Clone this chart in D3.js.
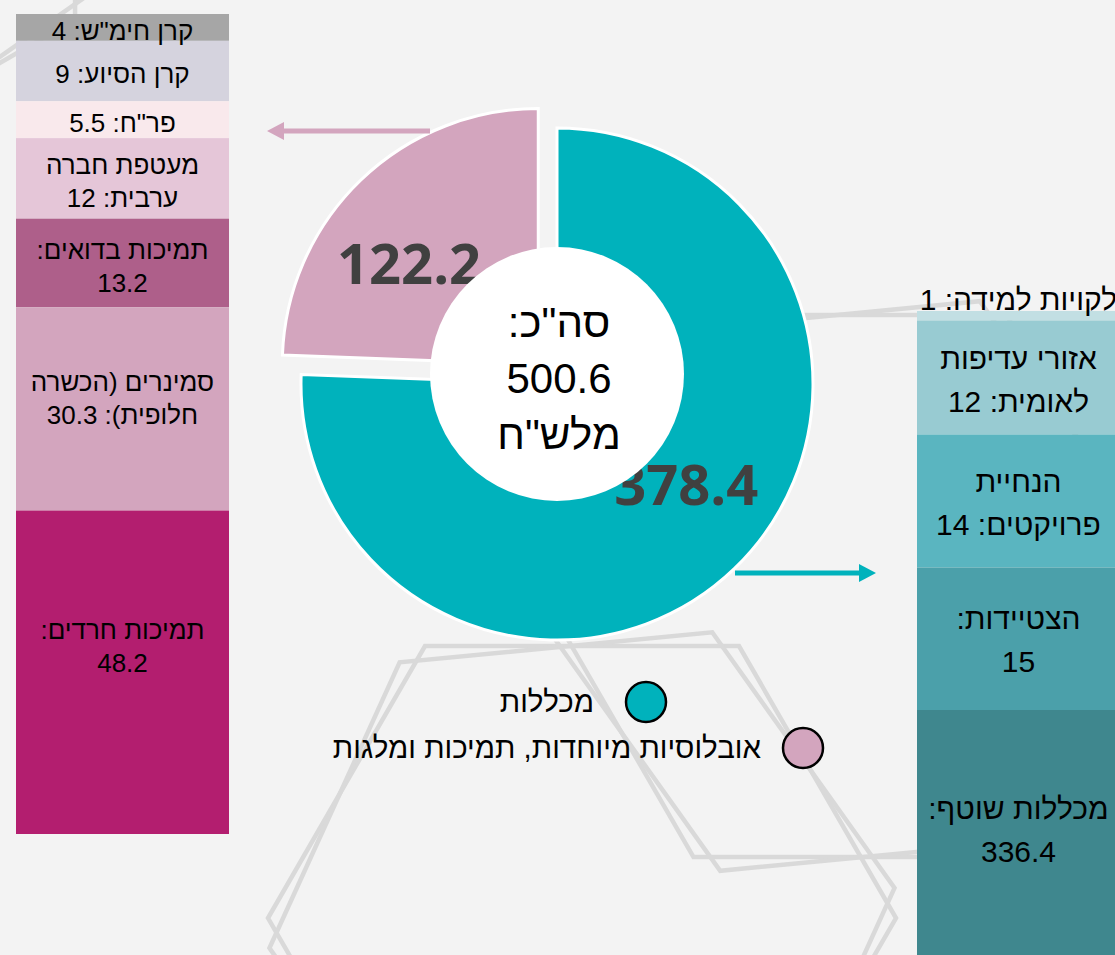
<!DOCTYPE html>
<html lang="he">
<head>
<meta charset="utf-8">
<script src="https://cdn.jsdelivr.net/npm/d3@7.9.0/dist/d3.min.js"></script>
<style>
  html, body { margin: 0; padding: 0; background: #f3f3f3; }
  svg { display: block; font-family: "Liberation Sans", "DejaVu Sans", sans-serif; }
  .num { font-family: "Open Sans", "Liberation Sans", sans-serif; }
</style>
</head>
<body>
<svg id="chart" width="1115" height="955"></svg>
<script>
// donut: two main groups (million NIS)
const groupNames = ["מכללות", "אובלוסיות מיוחדות, תמיכות ומלגות"];
const groupValues = [378.4, 122.2];
const groupColors = ["#00b2bc", "#d3a5be"];

// left bar: breakdown of the pink slice, top to bottom
const leftNames = ["קרן חימ\"ש", "קרן הסיוע", "פר\"ח", "מעטפת חברה\nערבית", "תמיכות בדואים", "סמינרים (הכשרה\nחלופית)", "תמיכות חרדים"];
const leftValues = [4, 9, 5.5, 12, 13.2, 30.3, 48.2];
const leftColors = ["#a6a6a6", "#d5d3de", "#f9e9ec", "#e5c6d8", "#ae5f8a", "#d3a5be", "#b31e6f"];

// right bar: breakdown of the teal slice, top to bottom
const rightNames = ["לקויות למידה", "אזורי עדיפות\nלאומית", "הנחיית\nפרויקטים", "הצטיידות", "מכללות שוטף"];
const rightValues = [1, 12, 14, 15, 336.4];
const rightColors = ["#c2dfe3", "#98cbd2", "#5ab5c0", "#4ba0aa", "#3f878e"];

// background decoration (hexagon outlines)
const hexes = [
  { cx: 582, cy: 918, r: 314, rot: 0 },
  { cx: 582, cy: 918, r: 314, rot: -5.5 },
  { cx: 850, cy: 586, r: 313, rot: 0 },
  { cx: 850, cy: 586, r: 313, rot: -5.5 },
  { cx: -196, cy: -137, r: 313, rot: 30 },
  { cx: -196, cy: -137, r: 313, rot: 25 }
];

const svg = d3.select("#chart");
const total = d3.sum(groupValues);

// hexagons
const hexLine = d3.line().curve(d3.curveLinearClosed);
svg.append("g").selectAll("path")
  .data(hexes)
  .join("path")
  .attr("d", h => hexLine(d3.range(6).map(k => {
    const a = (k * 60 + h.rot) * Math.PI / 180;
    return [h.cx + h.r * Math.cos(a), h.cy + h.r * Math.sin(a)];
  })))
  .attr("fill", "none")
  .attr("stroke", "#d9d9d9")
  .attr("stroke-width", 4.5);

// helper: stacked label lines
function labelLines(name, value, h) {
  if (name.includes("\n")) return `${name}: ${value}`.split("\n");
  if (h > 80) return [`${name}:`, `${value}`];
  return [`${name}: ${value}`];
}

function drawBar(names, values, colors, x, width, y, opts) {
  const stack = d3.cumsum(values);
  const g = svg.append("g");
  const segs = values.map((v, i) => {
    const y0 = y(stack[i] - v), y1 = y(stack[i]);
    return { name: names[i], value: v, color: colors[i], y0, y1 };
  });
  g.selectAll("rect")
    .data(segs)
    .join("rect")
    .attr("x", x)
    .attr("width", width)
    .attr("y", d => d.y0)
    .attr("height", d => d.y1 - d.y0)
    .attr("fill", d => d.color);

  segs.forEach(d => {
    const top = Math.max(d.y0, 0);
    const bot = Math.min(d.y1, 955);
    const h = bot - top;
    const lines = labelLines(d.name, d.value, h);
    const lh = opts.lineHeight;
    let mid;
    if (h < opts.fs * 0.6) {
      // tiny segment: label sits above it
      mid = d.y0 - opts.fs * 0.35 - 1;
    } else {
      mid = top + h / 2 + 3 - Math.max(0, (h - 100) * opts.bias);
    }
    const t = g.append("text")
      .attr("direction", "rtl")
      .attr("text-anchor", "middle")
      .attr("font-size", opts.fs)
      .attr("fill", "#000");
    lines.forEach((ln, j) => {
      t.append("tspan")
        .attr("x", x + width / 2)
        .attr("y", mid + (j - (lines.length - 1) / 2) * lh + opts.fs * 0.35)
        .text(ln);
    });
  });
}

// left bar
const yLeft = d3.scaleLinear().domain([0, d3.sum(leftValues)]).range([14, 834]);
drawBar(leftNames, leftValues, leftColors, 16, 213, yLeft, { fs: 26, lineHeight: 33, bias: 0.13 });

// right bar (scaled so that the large segment runs off the page)
const yRight = d3.scaleLinear().domain([0, 1]).range([311, 320.5]);
drawBar(rightNames, rightValues, rightColors, 917, 203, yRight, { fs: 30, lineHeight: 43, bias: 0.04 });

// donut
const cx = 557, cy = 384, R = 256;
const pie = d3.pie().sort(null).value(d => d);
const arcs = pie(groupValues);
const arc = d3.arc().innerRadius(0).outerRadius(R);
const explode = [0, 27];
const labelArc = d3.arc().innerRadius(164).outerRadius(164);

const dg = svg.append("g").attr("transform", `translate(${cx},${cy})`);
const slices = dg.selectAll("g.slice")
  .data(arcs)
  .join("g")
  .attr("class", "slice")
  .attr("transform", (d, i) => {
    const m = (d.startAngle + d.endAngle) / 2;
    return `translate(${Math.sin(m) * explode[i]},${-Math.cos(m) * explode[i]})`;
  });

slices.append("path")
  .attr("d", arc)
  .attr("fill", (d, i) => groupColors[i])
  .attr("stroke", "#fff")
  .attr("stroke-width", 3);

// arrows from slices to their breakdown bars
function arrow(x1, x2, y, color) {
  const dir = Math.sign(x2 - x1);
  svg.append("line")
    .attr("x1", x1).attr("x2", x2 - dir * 14)
    .attr("y1", y).attr("y2", y)
    .attr("stroke", color).attr("stroke-width", 5);
  svg.append("path")
    .attr("d", `M${x2},${y} L${x2 - dir * 17},${y - 9} L${x2 - dir * 17},${y + 9} Z`)
    .attr("fill", color);
}
arrow(cx - 127, 229 + 38, cy - 253, groupColors[1]);
arrow(cx + 178, 917 - 41, cy + 189, groupColors[0]);

slices.append("text")
  .attr("class", "num")
  .attr("transform", d => {
    const [lx, ly] = labelArc.centroid({ startAngle: d.startAngle - 0.14, endAngle: d.endAngle - 0.14 });
    return `translate(${lx},${ly})`;
  })
  .attr("text-anchor", "middle")
  .attr("dy", "0.36em")
  .attr("font-size", 56)
  .attr("font-weight", 700)
  .attr("fill", "#404040")
  .text(d => d.value);

// white centre with total
svg.append("circle")
  .attr("cx", cx).attr("cy", cy - 10)
  .attr("r", 127)
  .attr("fill", "#fff");

const centerLines = ["סה\"כ:", d3.format(".1f")(total), "מלש\"ח"];
svg.append("g").selectAll("text")
  .data(centerLines)
  .join("text")
  .attr("direction", "rtl")
  .attr("x", cx + 2)
  .attr("y", (d, i) => 337 + i * 56)
  .attr("text-anchor", "middle")
  .attr("font-size", 42)
  .attr("fill", "#000")
  .text(d => d);

// legend
const legendPos = [[646, 702, -52], [803, 748, -42]];
const lg = svg.append("g").selectAll("g")
  .data(groupNames)
  .join("g")
  .attr("transform", (d, i) => `translate(${legendPos[i][0]},${legendPos[i][1]})`);
lg.append("circle")
  .attr("r", 20)
  .attr("fill", (d, i) => groupColors[i])
  .attr("stroke", "#000")
  .attr("stroke-width", 2.5);
lg.append("text")
  .attr("direction", "rtl")
  .attr("text-anchor", "start")
  .attr("x", (d, i) => legendPos[i][2])
  .attr("y", 10)
  .attr("font-size", 29.5)
  .attr("fill", "#000")
  .text(d => d);
</script>
</body>
</html>
